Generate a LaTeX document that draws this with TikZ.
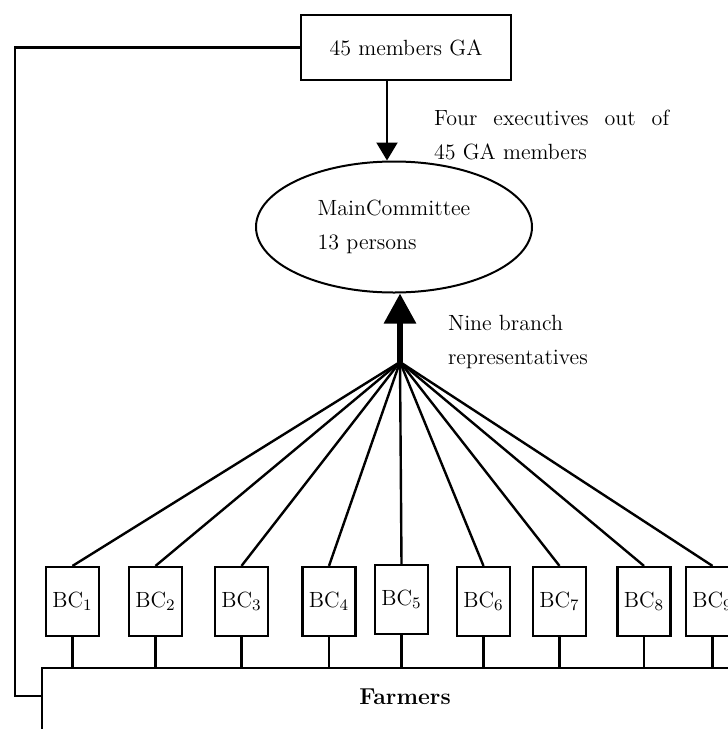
\documentclass[tikz,border=0pt]{standalone}
\usepackage{amsmath}
\usepackage{tikz}
\usetikzlibrary{shapes.geometric}
\usetikzlibrary{arrows.meta}

\begin{document}
\begin{tikzpicture}[x=0.5pt,y=-0.5pt,line width=1.1pt,
	box node/.style={rectangle, draw, minimum width=105pt, minimum height=32.5pt, font=\fontsize{11}{17}\selectfont},
	bc node/.style={rectangle, draw, minimum width=26.5pt, minimum height=34.5pt, inner sep=0pt, font=\fontsize{11}{17}\selectfont},
	txt node/.style={inner sep=0pt, align=left, font=\fontsize{11}{17}\selectfont}]
			\useasboundingbox (0,0) rectangle (728,729);
			\clip (0,0) rectangle (728,729);
			% Nodes
			\node[box node] (ga) at (406,47.5) {45 members GA};
			\node[ellipse, draw, line width=1pt, minimum width=138pt, minimum height=65.5pt, inner sep=0pt, txt node] (mc) at (394,227) {MainCommittee\\13 persons};
			\node[txt node, anchor=west] (exec) at (433,135) {\makebox[117.5pt][s]{Four executives out of}\\45 GA members};
			\node[txt node, anchor=west] (nine) at (447,341.5) {Nine branch\\representatives};
			\coordinate (hub) at (400,362);
			
			\node[bc node] (bc1) at (72.5,601.5) {BC$_1$};
			\node[bc node] (bc2) at (155.5,601.5) {BC$_2$};
			\node[bc node] (bc3) at (241.5,601.5) {BC$_3$};
			\node[bc node] (bc4) at (329,601.5) {BC$_4$};
			\node[bc node] (bc5) at (401.5,599.5) {BC$_5$};
			\node[bc node] (bc6) at (483.5,601.5) {BC$_6$};
			\node[bc node] (bc7) at (559.5,601.5) {BC$_7$};
			\node[bc node] (bc8) at (644,601.5) {BC$_8$};
			\node[bc node] (bc9) at (712.5,601.5) {BC$_9$};
			
			\node[rectangle, draw, anchor=north west, minimum width=400pt, minimum height=60pt] (fa) at (41,667) {};
			\node[inner sep=0pt, font=\fontsize{11.5}{14}\selectfont\bfseries] (fatext) at (405,697) {Farmers};
			\coordinate (fb) at (15,696);
			
			% Arrows
			\draw[-{Triangle[width=10.5pt,length=9pt]}] ([xshift=-9.5pt]ga.south) -- ([xshift=-9.5pt]ga.south |- mc.north);
			\draw[line width=3pt, -{Triangle[width=15.5pt,length=15pt]}] (hub) -- (hub |- mc.south);
			
			\path[draw, line width=1.2pt]
			(hub)
			edge (bc1.north)
			edge (bc2.north)
			edge (bc3.north)
			edge (bc4.north)
			edge (bc5.north)
			edge (bc6.north)
			edge (bc7.north)
			edge (bc8.north)
			edge (bc9.north);
			
			\draw (bc1.south) -- (bc1.south |- fa.north);
			\draw (bc2.south) -- (bc2.south |- fa.north);
			\draw (bc3.south) -- (bc3.south |- fa.north);
			\draw (bc4.south) -- (bc4.south |- fa.north);
			\draw (bc5.south) -- (bc5.south |- fa.north);
			\draw (bc6.south) -- (bc6.south |- fa.north);
			\draw (bc7.south) -- (bc7.south |- fa.north);
			\draw (bc8.south) -- (bc8.south |- fa.north);
			\draw (bc9.south) -- (bc9.south |- fa.north);
			
			\draw (ga.west) -| (fb) -- (fb -| fa.west);
			
		\end{tikzpicture}
\end{document}
